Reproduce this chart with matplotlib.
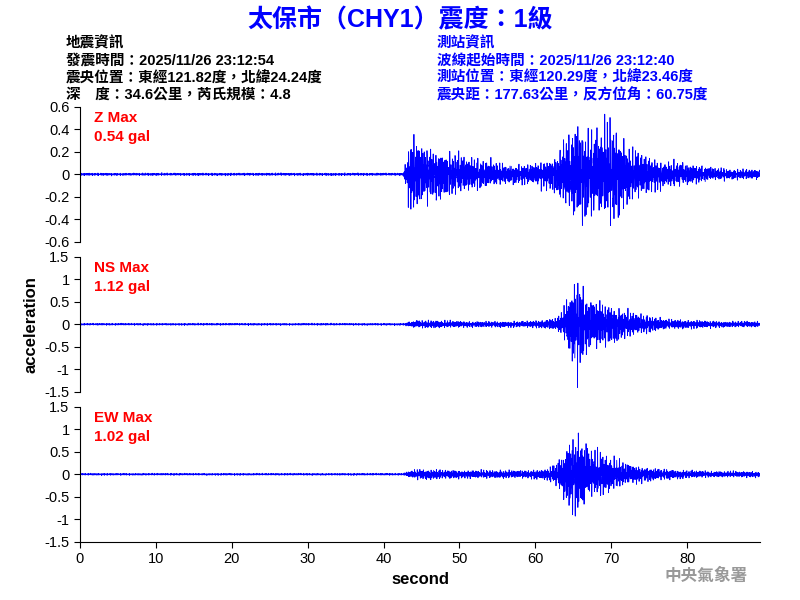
import numpy as np
import matplotlib
matplotlib.use("Agg")
import matplotlib.pyplot as plt

plt.rcParams['font.family'] = ['Liberation Sans', 'Noto Sans CJK TC', 'DejaVu Sans']

title = "太保市（CHY1）震度：1級"
left_info = ["地震資訊", "發震時間：2025/11/26 23:12:54",
             "震央位置：東經121.82度，北緯24.24度", "深　度：34.6公里，芮氏規模：4.8"]
right_info = ["測站資訊", "波線起始時間：2025/11/26 23:12:40",
              "測站位置：東經120.29度，北緯23.46度", "震央距：177.63公里，反方位角：60.75度"]

# per-second amplitude envelope (seconds 0..89)
env_z = [0.01]*43 + [0.3, 0.28, 0.22, 0.2, 0.2, 0.18, 0.17, 0.14, 0.13, 0.12, 0.11, 0.1,
         0.09, 0.08, 0.08, 0.08, 0.08, 0.1, 0.12, 0.15, 0.25, 0.32, 0.4, 0.38, 0.33, 0.36,
         0.42, 0.4, 0.28, 0.22, 0.2, 0.16, 0.13, 0.11, 0.1, 0.1, 0.09, 0.08, 0.07, 0.06,
         0.05, 0.05, 0.04, 0.04, 0.04, 0.04, 0.04]
env_ns = [0.02]*43 + [0.06, 0.08, 0.08, 0.08, 0.07, 0.07, 0.07, 0.06, 0.06, 0.06, 0.06, 0.06,
          0.06, 0.06, 0.06, 0.06, 0.07, 0.08, 0.1, 0.12, 0.25, 0.7, 1.0, 0.6, 0.5, 0.45,
          0.42, 0.38, 0.3, 0.25, 0.2, 0.18, 0.15, 0.12, 0.1, 0.1, 0.09, 0.08, 0.08, 0.07,
          0.07, 0.06, 0.06, 0.06, 0.06, 0.06, 0.06]
env_ew = [0.02]*43 + [0.08, 0.1, 0.1, 0.1, 0.09, 0.09, 0.09, 0.08, 0.08, 0.08, 0.08, 0.08,
          0.08, 0.08, 0.08, 0.08, 0.09, 0.1, 0.12, 0.2, 0.4, 0.75, 0.9, 0.6, 0.5, 0.45,
          0.38, 0.3, 0.25, 0.2, 0.18, 0.15, 0.13, 0.11, 0.1, 0.09, 0.08, 0.08, 0.07, 0.07,
          0.06, 0.06, 0.06, 0.06, 0.06, 0.06, 0.06]
labels = ["Z Max\n0.54 gal", "NS Max\n1.12 gal", "EW Max\n1.02 gal"]
ylims = [0.6, 1.5, 1.5]
yticks = [[-0.6, -0.4, -0.2, 0, 0.2, 0.4, 0.6],
          [-1.5, -1, -0.5, 0, 0.5, 1, 1.5],
          [-1.5, -1, -0.5, 0, 0.5, 1, 1.5]]

t = np.arange(0, 89.6, 0.02)
sec = np.arange(len(env_z)) + 0.6

fig = plt.figure(figsize=(8, 6), dpi=100)
fig.text(0.5, 0.966, title, ha='center', va='center', fontsize=18, color='#0000ff', fontweight='bold')
for i, s in enumerate(left_info):
    fig.text(0.082, 0.927 - i*0.0285, s, fontsize=10.5, va='center', fontweight='bold')
for i, s in enumerate(right_info):
    fig.text(0.546, 0.927 - i*0.0285, s, fontsize=10.5, va='center', color='#0000ff', fontweight='bold')
fig.text(0.935, 0.032, "中央氣象署", ha='right', fontsize=12, color='#999999', fontweight='bold')

bottoms = [0.597, 0.347, 0.097]
for k, env in enumerate([env_z, env_ns, env_ew]):
    ax = fig.add_axes([0.1, bottoms[k], 0.85, 0.225])
    e = np.interp(t, sec, env)
    ph = 1.3 * k
    carrier = 0.8 * (np.sin(2*np.pi*7.3*t + ph) * np.sin(2*np.pi*1.37*t + 2*ph)
                     + 0.6*np.sin(2*np.pi*11.9*t + 0.7*ph) * np.cos(2*np.pi*0.83*t)
                     + 0.4*np.sin(2*np.pi*17.1*t + ph) * np.sin(2*np.pi*2.71*t))
    ax.plot(t, e * carrier, color='#0000ff', lw=0.6)
    ax.set_xlim(0, 89.6)
    ax.set_ylim(-ylims[k], ylims[k])
    ax.set_yticks(yticks[k])
    ax.set_yticklabels([f"{v:g}" for v in yticks[k]])
    for sp in ['top', 'right']:
        ax.spines[sp].set_visible(False)
    ax.tick_params(labelsize=10.5, direction='out', length=4)
    ax.text(0.02, 0.97, labels[k], transform=ax.transAxes, color='red', fontsize=11,
            fontweight='bold', va='top', linespacing=1.5)
    if k < 2:
        ax.spines['bottom'].set_visible(False)
        ax.set_xticks([])
    else:
        ax.set_xticks(range(0, 90, 10))
        ax.set_xlabel("second", fontsize=12, fontweight='bold')
    if k == 1:
        ax.set_ylabel("acceleration", fontsize=12, fontweight='bold')

fig.savefig("out.png", dpi=100)
